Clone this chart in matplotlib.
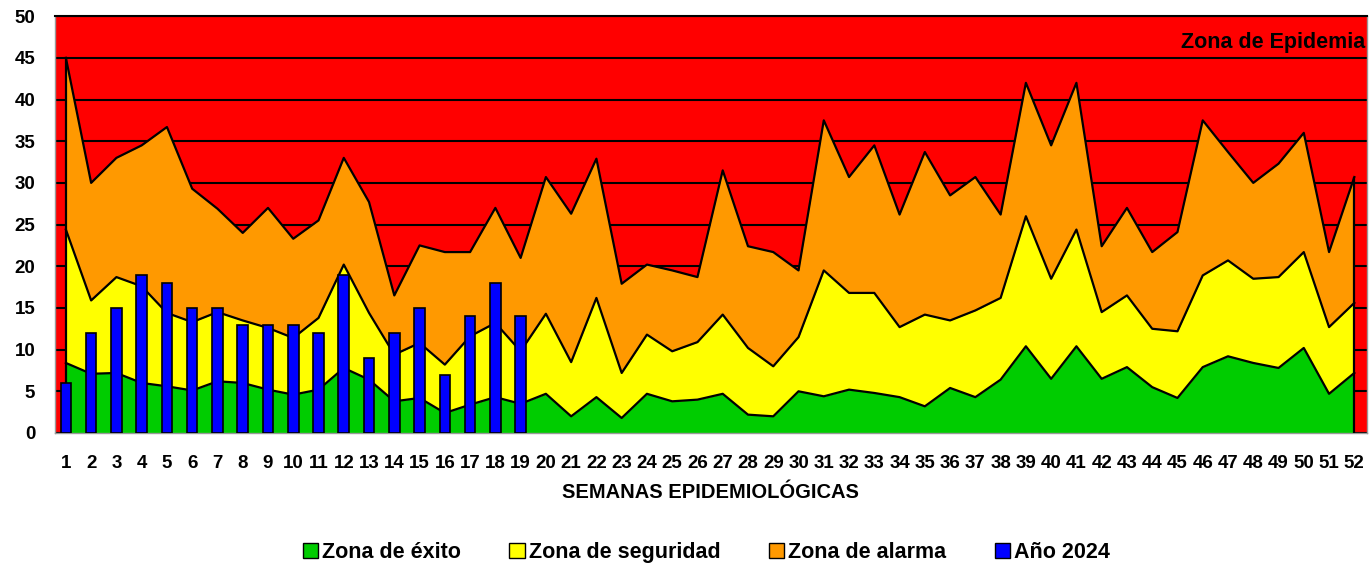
import matplotlib
matplotlib.use("Agg")
import matplotlib.pyplot as plt
from matplotlib.patches import Patch

# semanas epidemiologicas
semanas = list(range(1, 53))

# limites acumulados de cada zona
lim_exito = [8.4, 7.1, 7.2, 6.0, 5.6, 5.1, 6.2, 6.0, 5.2, 4.6, 5.2, 7.8, 6.4, 3.8, 4.2, 2.4, 3.4, 4.3, 3.5,
             4.7, 2.0, 4.3, 1.8, 4.7, 3.8, 4.0, 4.7, 2.2, 2.0, 5.0, 4.4, 5.2, 4.8, 4.3, 3.2, 5.4, 4.3, 6.4,
             10.4, 6.5, 10.4, 6.5, 7.9, 5.5, 4.2, 7.9, 9.2, 8.4, 7.8, 10.2, 4.7, 7.2]
lim_seguridad = [24.4, 15.9, 18.7, 17.6, 14.4, 13.3, 14.5, 13.5, 12.6, 11.4, 13.8, 20.2, 14.4, 9.4, 10.8, 8.2,
                 11.6, 13.2, 9.8, 14.3, 8.5, 16.2, 7.2, 11.8, 9.8, 10.9, 14.2, 10.2, 8.0, 11.5, 19.5, 16.8,
                 16.8, 12.7, 14.2, 13.5, 14.7, 16.2, 26.0, 18.5, 24.4, 14.5, 16.5, 12.5, 12.2, 18.9, 20.7,
                 18.5, 18.7, 21.7, 12.7, 15.6]
lim_alarma = [45.0, 30.0, 33.0, 34.5, 36.7, 29.3, 26.9, 24.0, 27.0, 23.3, 25.5, 33.0, 27.7, 16.5, 22.5, 21.7,
              21.7, 27.0, 21.0, 30.7, 26.3, 32.9, 17.9, 20.2, 19.5, 18.7, 31.5, 22.4, 21.7, 19.5, 37.5, 30.7,
              34.5, 26.2, 33.7, 28.5, 30.7, 26.2, 42.0, 34.5, 42.0, 22.4, 27.0, 21.7, 24.1, 37.5, 33.7, 30.0,
              32.3, 36.0, 21.7, 30.7]

# casos 2024
semanas_2024 = list(range(1, 20))
casos_2024 = [6, 12, 15, 19, 18, 15, 15, 13, 13, 13, 12, 19, 9, 12, 15, 7, 14, 18, 14]

verde = "#00CC00"
amarillo = "#FFFF00"
naranja = "#FF9900"
rojo = "#FF0000"
azul = "#0000FF"

plt.rcParams['font.family'] = ['Liberation Sans', 'DejaVu Sans']
plt.rcParams['font.weight'] = 'bold'

fig = plt.figure(figsize=(13.69, 5.66), dpi=100)
ax = fig.add_axes([0.040, 0.235, 0.9585, 0.7365])
ax.set_facecolor(rojo)

ax.fill_between(semanas, 0, lim_exito, color=verde, lw=0, zorder=2)
ax.fill_between(semanas, lim_exito, lim_seguridad, color=amarillo, lw=0, zorder=2)
ax.fill_between(semanas, lim_seguridad, lim_alarma, color=naranja, lw=0, zorder=2)
for lim in (lim_exito, lim_seguridad, lim_alarma):
    ax.plot(semanas, lim, color="black", lw=1.6, zorder=3)
ax.vlines([semanas[0], semanas[-1]], 0, [lim_alarma[0], lim_alarma[-1]], color="black", lw=1.6, zorder=3)

ax.bar(semanas_2024, casos_2024, width=0.42, color=azul, edgecolor="black", lw=1.2, zorder=4)

ax.set_ylim(0, 50)
ax.set_xlim(0.56, 52.5)
ax.set_yticks(range(0, 51, 5))
ax.set_xticks(semanas)
ax.set_xticklabels([str(s) for s in semanas])
ax.yaxis.grid(True, color="black", lw=1.5)
ax.set_axisbelow(True)
ax.tick_params(axis="both", length=0, labelsize=13.5)
ax.tick_params(axis="x", pad=16)
ax.tick_params(axis="y", pad=14)
for lab in ax.get_xticklabels() + ax.get_yticklabels():
    lab.set_fontweight("bold")
for side in ("left", "bottom", "right"):
    ax.spines[side].set_color("#999999")
    ax.spines[side].set_linewidth(1)
ax.spines["top"].set_color("black")
ax.spines["top"].set_linewidth(1.5)

ax.set_xlabel("SEMANAS EPIDEMIOLÓGICAS", fontsize=14.5, fontweight="bold", labelpad=8)
ax.text(0.999, 45.6, "Zona de Epidemia", transform=ax.get_yaxis_transform(), ha="right", va="bottom",
        fontsize=15.5, fontweight="bold", color="black", zorder=5)

handles = [Patch(facecolor=verde, edgecolor="black"),
           Patch(facecolor=amarillo, edgecolor="black"),
           Patch(facecolor=naranja, edgecolor="black"),
           Patch(facecolor=azul, edgecolor="black")]
labels = ["Zona de éxito", "Zona de seguridad", "Zona de alarma", "Año 2024"]
fig.legend(handles, labels, loc="center", bbox_to_anchor=(0.516, 0.023), ncol=4, frameon=False,
           prop={"size": 15.5, "weight": "bold"}, handlelength=0.7, handleheight=0.7,
           handletextpad=0.2, columnspacing=2.25)

fig.savefig("out.png", dpi=100)
